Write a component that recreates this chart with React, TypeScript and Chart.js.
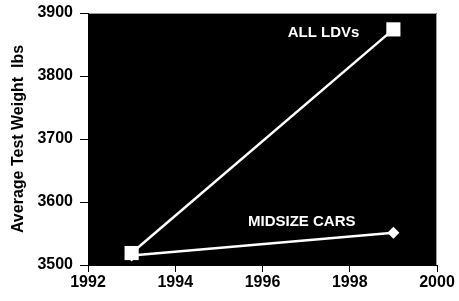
import React, { useEffect, useRef } from "react";
import { Chart, registerables } from "chart.js";

Chart.register(...registerables);

const years = [1993, 1999];
const allLdvs = [3519, 3874];
const midsizeCars = [3515, 3551];
const seriesNames = ["ALL LDVs", "MIDSIZE CARS"];
const xMin = 1992;
const xMax = 2000;
const xStep = 2;
const yMin = 3500;
const yMax = 3900;
const yStep = 100;
const yTitle = "Average Test Weight  lbs";
// anchors of the in-plot series labels, in data units
const labelX = [1997.4, 1996.9];
const labelY = [3868, 3569];

const FONT = "'Liberation Sans', Arial, sans-serif";

const plotPlugin = {
  id: "plotBg",
  beforeDraw(chart: any) {
    const { ctx, chartArea } = chart;
    ctx.save();
    ctx.fillStyle = "#000";
    ctx.fillRect(chartArea.left, chartArea.top, chartArea.right - chartArea.left, chartArea.bottom - chartArea.top);
    ctx.strokeStyle = "#9a9a9a";
    ctx.lineWidth = 1;
    ctx.beginPath();
    ctx.moveTo(chartArea.left, chartArea.top + 0.5);
    ctx.lineTo(chartArea.right - 0.5, chartArea.top + 0.5);
    ctx.lineTo(chartArea.right - 0.5, chartArea.bottom);
    ctx.stroke();
    ctx.restore();
  },
  afterDatasetsDraw(chart: any) {
    const { ctx, scales } = chart;
    ctx.save();
    ctx.fillStyle = "#fff";
    ctx.font = `bold 15px ${FONT}`;
    ctx.textAlign = "center";
    ctx.textBaseline = "middle";
    seriesNames.forEach((name, i) => {
      ctx.fillText(name, scales.x.getPixelForValue(labelX[i]), scales.y.getPixelForValue(labelY[i]));
    });
    ctx.restore();
  },
};

export default function App() {
  const ref = useRef<HTMLCanvasElement | null>(null);

  useEffect(() => {
    if (!ref.current) return;
    const chart = new Chart(ref.current, {
      type: "line",
      data: {
        datasets: [
          {
            label: seriesNames[0],
            data: years.map((x, i) => ({ x, y: allLdvs[i] })),
            borderColor: "#fff",
            backgroundColor: "#fff",
            borderWidth: 2.5,
            pointStyle: "rect",
            pointRadius: 10,
            pointBorderWidth: 0,
            pointBackgroundColor: "#fff",
            order: 0,
          },
          {
            label: seriesNames[1],
            data: years.map((x, i) => ({ x, y: midsizeCars[i] })),
            borderColor: "#fff",
            backgroundColor: "#fff",
            borderWidth: 2.5,
            pointStyle: "rectRot",
            pointRadius: 6,
            pointBorderWidth: 0,
            pointBackgroundColor: "#fff",
            order: 1,
          },
        ],
      },
      options: {
        animation: false,
        responsive: true,
        maintainAspectRatio: false,
        layout: { padding: { top: 13, right: 22, left: 0, bottom: 0 } },
        plugins: { legend: { display: false }, tooltip: { enabled: false } },
        scales: {
          x: {
            type: "linear",
            min: xMin,
            max: xMax,
            ticks: {
              stepSize: xStep,
              color: "#000",
              font: { family: FONT, size: 16, weight: "bold" },
              padding: 1,
              callback: (v: any) => String(v),
            },
            grid: { drawOnChartArea: false, drawTicks: true, tickLength: 7, color: "#000" },
            border: { color: "#000", width: 1 },
            afterFit: (s: any) => {
              s.height = 36;
              s.paddingLeft = 0;
              s.paddingRight = 0;
            },
          },
          y: {
            min: yMin,
            max: yMax,
            ticks: {
              stepSize: yStep,
              color: "#000",
              font: { family: FONT, size: 16, weight: "bold" },
              padding: 7,
              callback: (v: any) => String(v),
            },
            grid: { drawOnChartArea: false, drawTicks: true, tickLength: 8, color: "#000" },
            border: { color: "#000", width: 1 },
            title: {
              display: true,
              text: yTitle,
              color: "#000",
              font: { family: FONT, size: 16, weight: "bold" },
              padding: { top: 9, bottom: 0 },
            },
            afterFit: (s: any) => {
              s.width = 88;
              s.paddingTop = 0;
              s.paddingBottom = 0;
            },
          },
        },
      },
      plugins: [plotPlugin],
    });
    return () => chart.destroy();
  }, []);

  return (
    <div style={{ position: "fixed", left: 0, top: 0, width: 459, height: 301, background: "#fff" }}>
      <canvas ref={ref} />
    </div>
  );
}
